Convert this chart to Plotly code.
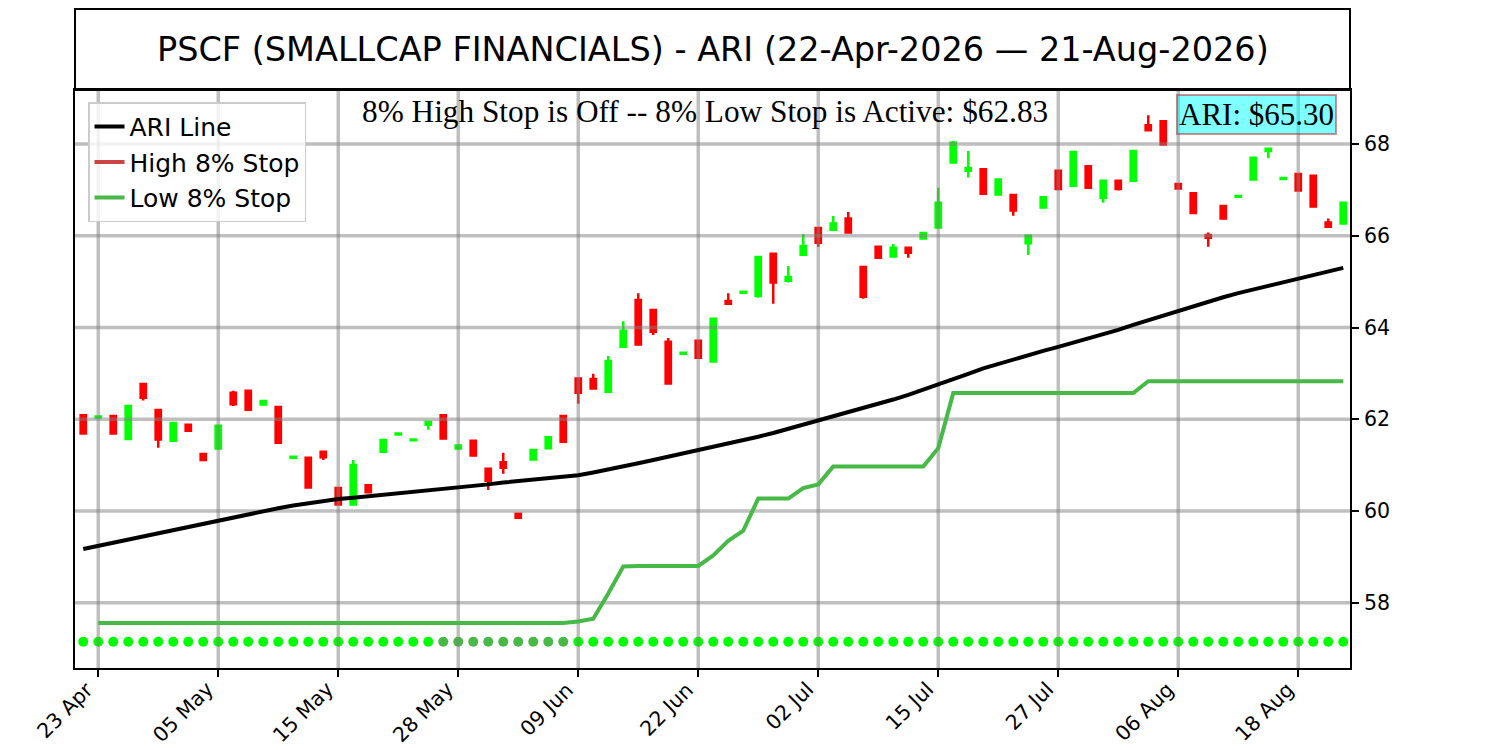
import plotly.graph_objects as go

# ---------------- data ----------------
dates = [
    "2026-04-22", "2026-04-23", "2026-04-24", "2026-04-27", "2026-04-28", "2026-04-29", "2026-04-30",
    "2026-05-01", "2026-05-04", "2026-05-05", "2026-05-06", "2026-05-07", "2026-05-08",
    "2026-05-11", "2026-05-12", "2026-05-13", "2026-05-14", "2026-05-15",
    "2026-05-18", "2026-05-19", "2026-05-20", "2026-05-21", "2026-05-22",
    "2026-05-26", "2026-05-27", "2026-05-28", "2026-05-29",
    "2026-06-01", "2026-06-02", "2026-06-03", "2026-06-04", "2026-06-05",
    "2026-06-08", "2026-06-09", "2026-06-10", "2026-06-11", "2026-06-12",
    "2026-06-15", "2026-06-16", "2026-06-17", "2026-06-18",
    "2026-06-22", "2026-06-23", "2026-06-24", "2026-06-25", "2026-06-26",
    "2026-06-29", "2026-06-30", "2026-07-01", "2026-07-02",
    "2026-07-06", "2026-07-07", "2026-07-08", "2026-07-09", "2026-07-10",
    "2026-07-13", "2026-07-14", "2026-07-15", "2026-07-16", "2026-07-17",
    "2026-07-20", "2026-07-21", "2026-07-22", "2026-07-23", "2026-07-24",
    "2026-07-27", "2026-07-28", "2026-07-29", "2026-07-30", "2026-07-31",
    "2026-08-03", "2026-08-04", "2026-08-05", "2026-08-06", "2026-08-07",
    "2026-08-10", "2026-08-11", "2026-08-12", "2026-08-13", "2026-08-14",
    "2026-08-17", "2026-08-18", "2026-08-19", "2026-08-20", "2026-08-21",
]

open_ = [
    62.09, 62.04, 62.07, 61.57, 62.77, 62.20, 61.53, 61.88, 61.24, 61.36,
    62.58, 62.62, 62.32, 62.27, 61.16, 61.16, 61.29, 60.50, 60.14, 60.56,
    61.29, 61.67, 61.54, 61.88, 62.09, 61.36, 61.53, 60.92, 61.06, 59.94,
    61.12, 61.37, 62.07, 62.89, 62.88, 62.60, 63.58, 64.60, 64.38, 63.69,
    63.43, 63.71, 63.26, 64.58, 64.76, 64.69, 65.61, 65.02, 65.59, 66.17,
    66.13, 66.38, 65.32, 65.76, 65.55, 65.74, 65.94, 66.18, 67.60, 67.42,
    67.45, 66.90, 66.89, 65.84, 66.62, 67.42, 67.09, 67.52, 66.83, 67.20,
    67.20, 68.41, 68.50, 67.13, 66.93, 66.02, 66.65, 66.85, 67.23, 67.85,
    67.24, 67.35, 67.31, 66.29, 66.27,
]
high = [
    62.09, 62.06, 62.07, 62.29, 62.77, 62.20, 61.92, 61.88, 61.24, 61.86,
    62.62, 62.62, 62.40, 62.27, 61.18, 61.16, 61.29, 60.50, 61.11, 60.56,
    61.55, 61.69, 61.56, 61.94, 62.09, 61.43, 61.53, 60.92, 61.27, 59.94,
    61.33, 61.61, 62.07, 62.89, 62.99, 63.38, 64.14, 64.75, 64.38, 63.77,
    63.45, 63.71, 64.19, 64.75, 64.78, 65.54, 65.61, 65.34, 66.04, 66.17,
    66.43, 66.52, 65.32, 65.76, 65.82, 65.74, 66.06, 67.05, 68.07, 67.85,
    67.45, 67.23, 66.89, 66.00, 66.84, 67.42, 67.83, 67.52, 67.20, 67.20,
    67.87, 68.63, 68.50, 67.13, 66.93, 66.07, 66.65, 66.87, 67.70, 67.90,
    67.26, 67.35, 67.31, 66.38, 66.72,
]
low = [
    61.69, 62.04, 61.69, 61.57, 62.41, 61.38, 61.53, 61.75, 61.11, 61.36,
    62.29, 62.21, 62.30, 61.49, 61.16, 60.51, 61.11, 60.14, 60.14, 60.41,
    61.29, 61.67, 61.54, 61.77, 61.58, 61.36, 61.21, 60.46, 60.81, 59.85,
    61.12, 61.37, 61.51, 62.34, 62.67, 62.60, 63.58, 63.63, 63.84, 62.75,
    63.43, 63.34, 63.26, 64.52, 64.76, 64.65, 64.52, 64.98, 65.59, 65.76,
    66.13, 66.07, 64.63, 65.52, 65.55, 65.52, 65.94, 66.18, 67.60, 67.27,
    66.92, 66.90, 66.44, 65.58, 66.62, 67.02, 67.09, 67.05, 66.72, 66.99,
    67.20, 68.30, 67.99, 67.03, 66.50, 65.76, 66.38, 66.85, 67.23, 67.69,
    67.24, 66.99, 66.64, 66.20, 66.27,
]
close = [
    61.69, 62.06, 61.69, 62.29, 62.47, 61.56, 61.92, 61.75, 61.11, 61.86,
    62.33, 62.21, 62.40, 61.49, 61.18, 60.51, 61.17, 60.14, 61.00, 60.41,
    61.55, 61.69, 61.56, 61.94, 61.58, 61.43, 61.21, 60.66, 60.94, 59.85,
    61.33, 61.61, 61.51, 62.58, 62.67, 63.27, 63.93, 63.63, 63.91, 62.78,
    63.45, 63.34, 64.19, 64.52, 64.78, 65.54, 64.98, 65.10, 65.78, 65.85,
    66.27, 66.07, 64.67, 65.52, 65.74, 65.63, 66.06, 66.72, 68.03, 67.48,
    66.92, 67.23, 66.55, 66.00, 66.84, 67.02, 67.83, 67.05, 67.20, 67.02,
    67.85, 68.30, 67.99, 67.03, 66.50, 65.96, 66.38, 66.87, 67.70, 67.90,
    67.26, 66.99, 66.64, 66.20, 66.72,
]

ari_line = [
    59.17, 59.24, 59.31, 59.38, 59.45, 59.51, 59.58, 59.64, 59.71, 59.78,
    59.85, 59.93, 60.00, 60.06, 60.12, 60.17, 60.22, 60.26, 60.29, 60.32,
    60.35, 60.38, 60.41, 60.44, 60.48, 60.51, 60.55, 60.58, 60.62, 60.65,
    60.68, 60.71, 60.74, 60.78, 60.84, 60.90, 60.97, 61.04, 61.11, 61.18,
    61.25, 61.32, 61.39, 61.46, 61.54, 61.62, 61.70, 61.79, 61.87, 61.96,
    62.05, 62.14, 62.24, 62.33, 62.43, 62.53, 62.64, 62.75, 62.87, 62.99,
    63.11, 63.21, 63.30, 63.40, 63.49, 63.58, 63.67, 63.77, 63.86, 63.95,
    64.06, 64.16, 64.27, 64.38, 64.48, 64.57, 64.66, 64.75, 64.83, 64.91,
    64.99, 65.07, 65.15, 65.23, 65.30,
]

low_stop = [
    None, 57.56, 57.56, 57.56, 57.56, 57.56, 57.56, 57.56, 57.56, 57.56,
    57.56, 57.56, 57.56, 57.56, 57.56, 57.56, 57.56, 57.56, 57.56, 57.56,
    57.56, 57.56, 57.56, 57.56, 57.56, 57.56, 57.56, 57.56, 57.56, 57.56,
    57.56, 57.56, 57.56, 57.59, 57.65, 58.20, 58.79, 58.80, 58.80, 58.80,
    58.80, 58.80, 59.03, 59.35, 59.57, 60.27, 60.27, 60.27, 60.50, 60.58,
    60.97, 60.97, 60.97, 60.97, 60.97, 60.97, 60.97, 61.37, 62.57, 62.57,
    62.57, 62.57, 62.57, 62.57, 62.57, 62.57, 62.57, 62.57, 62.57, 62.57,
    62.57, 62.83, 62.83, 62.83, 62.83, 62.83, 62.83, 62.83, 62.83, 62.83,
    62.83, 62.83, 62.83, 62.83, 62.83,
]

# signal dots row: L = bright, D = dark
signal_level = 57.15
signal_state = (
    "LLLLLLLLLL" "LLLLLLLLLL" "LLLLDDDDDD" "DDDLLLLLLL" "LLLLLLLLLL"
    "LLLLLLLLLL" "LLLLLLLLLL" "LLLLLLLLLL" "LLLLL"
)

tick_dates = ["2026-04-23", "2026-05-05", "2026-05-15", "2026-05-28", "2026-06-09",
              "2026-06-22", "2026-07-02", "2026-07-15", "2026-07-27", "2026-08-06",
              "2026-08-18"]
tick_labels = ["23 Apr", "05 May", "15 May", "28 May", "09 Jun", "22 Jun",
               "02 Jul", "15 Jul", "27 Jul", "06 Aug", "18 Aug"]
y_ticks = [58, 60, 62, 64, 66, 68]
y_tick_labels = ["58", "60", "62", "64", "66", "68"]

title_text = "PSCF (SMALLCAP FINANCIALS) - ARI (22-Apr-2026 \u2014 21-Aug-2026)"
status_text = "8% High Stop is Off -- 8% Low Stop is Active: $62.83"
ari_label = "ARI: $65.30"

# ---------------- styling ----------------
X_RANGE = [-0.55, 84.45]
Y_RANGE = [56.576, 69.18]
GREEN = "#00ff00"
RED = "#ff0000"
LOW_COLOR = "rgb(70,185,70)"
HIGH_COLOR = "rgb(204,68,68)"
GRID = "rgba(128,128,128,0.5)"
SANS = "DejaVu Sans"
SERIF = "Liberation Serif"
TICK_FONT = 20.5

W, H = 1492, 742
ML, MR, MT, MB = 67, 150, 82, 82
PLOT_W = W - ML - MR
PLOT_H = H - MT - MB

xpos = list(range(len(dates)))
tickvals = [dates.index(d) for d in tick_dates]

fig = go.Figure()

fig.add_trace(go.Candlestick(
    x=xpos, open=open_, high=high, low=low, close=close,
    increasing=dict(line=dict(color=GREEN, width=2.5), fillcolor=GREEN),
    decreasing=dict(line=dict(color=RED, width=2.5), fillcolor=RED),
    whiskerwidth=0, showlegend=False, hoverinfo="skip",
))

fig.add_trace(go.Scatter(
    x=xpos, y=[signal_level] * len(xpos), mode="markers",
    marker=dict(size=10, color=[GREEN if s == "L" else LOW_COLOR for s in signal_state]),
    showlegend=False, hoverinfo="skip",
))

# grid lines drawn above the candles but below the lines
gx, gy = [], []
for t in tickvals:
    gx += [t, t, None]
    gy += [Y_RANGE[0] - 1, Y_RANGE[1] + 1, None]
for v in y_ticks:
    gx += [X_RANGE[0] - 1, X_RANGE[1] + 1, None]
    gy += [v, v, None]
fig.add_trace(go.Scatter(x=gx, y=gy, mode="lines", line=dict(color=GRID, width=3.5),
                         showlegend=False, hoverinfo="skip"))

fig.add_trace(go.Scatter(x=xpos, y=ari_line, mode="lines", name="ARI Line",
                         line=dict(color="black", width=4)))
fig.add_trace(go.Scatter(x=[None], y=[None], mode="lines", name="High 8% Stop",
                         line=dict(color=HIGH_COLOR, width=4)))
fig.add_trace(go.Scatter(x=xpos, y=low_stop, mode="lines", name="Low 8% Stop",
                         line=dict(color=LOW_COLOR, width=4)))

top_box = 1 + (MT - 1) / PLOT_H

annotations = [
    dict(text=title_text, xref="paper", yref="paper", x=0.5, y=(1 + top_box) / 2,
         xanchor="center", yanchor="middle", showarrow=False,
         font=dict(family=SANS, size=33.5, color="black")),
    dict(text=status_text, xref="paper", yref="paper", x=0.494, y=0.996,
         xanchor="center", yanchor="top", showarrow=False,
         font=dict(family=SERIF, size=31.3, color="black")),
    dict(text=ari_label, xref="paper", yref="paper", x=0.9898, y=0.993,
         xanchor="right", yanchor="top", showarrow=False,
         bgcolor="rgba(0,255,255,0.5)", bordercolor="rgba(165,42,42,0.5)",
         borderwidth=2, borderpad=1,
         font=dict(family=SERIF, size=31, color="black")),
]
# rotated date labels, right/top aligned at each tick (matplotlib style)
for tv, lab in zip(tickvals, tick_labels):
    annotations.append(dict(
        text=lab, xref="x", yref="paper", x=tv + 0.1, y=-8 / PLOT_H,
        xanchor="right", yanchor="top", textangle=-45, showarrow=False,
        borderpad=0, font=dict(family=SANS, size=TICK_FONT, color="black")))
for yv, lab in zip(y_ticks, y_tick_labels):
    annotations.append(dict(
        text=lab, xref="paper", yref="y", x=1 + 13 / PLOT_W, y=yv,
        xanchor="left", yanchor="middle", showarrow=False,
        borderpad=0, font=dict(family=SANS, size=TICK_FONT, color="black")))

fig.update_layout(
    width=W, height=H,
    margin=dict(l=ML, r=MR, t=MT, b=MB, autoexpand=False),
    paper_bgcolor="white", plot_bgcolor="white",
    boxgap=0.5,
    font=dict(family=SANS, color="black", size=20),
    showlegend=True,
    legend=dict(x=0.0102, y=0.979, xanchor="left", yanchor="top",
                bgcolor="rgba(255,255,255,0.8)", bordercolor="#cccccc", borderwidth=1.5,
                font=dict(family=SANS, size=25, color="black"),
                itemwidth=30, tracegroupgap=0),
    xaxis=dict(range=X_RANGE, tickvals=tickvals, showticklabels=False,
               showgrid=False, zeroline=False, showline=True, mirror=True,
               linecolor="black", linewidth=2, ticks="outside", ticklen=7, tickwidth=2,
               tickcolor="black", automargin=False,
               rangeslider=dict(visible=False)),
    yaxis=dict(range=Y_RANGE, tickvals=y_ticks, side="right", showticklabels=False,
               showgrid=False, zeroline=False, showline=True, mirror=True,
               linecolor="black", linewidth=2, ticks="outside", ticklen=7, tickwidth=2,
               tickcolor="black", automargin=False),
    shapes=[dict(type="rect", xref="paper", yref="paper", x0=0, x1=1, y0=1, y1=top_box,
                 line=dict(color="black", width=2), fillcolor="rgba(0,0,0,0)")],
    annotations=annotations,
)

fig.write_html("out.html")
